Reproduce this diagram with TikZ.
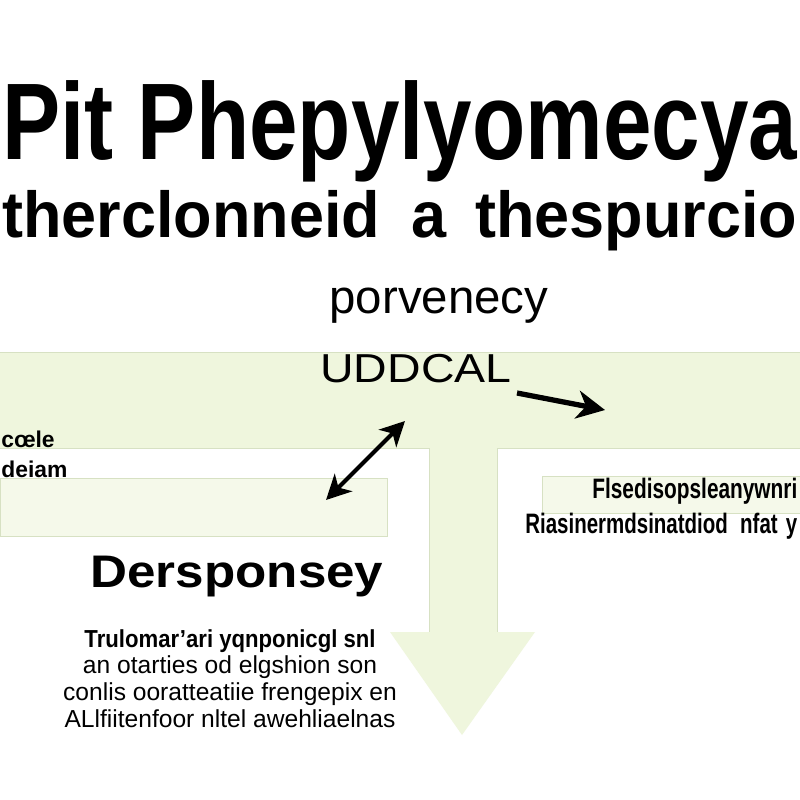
\documentclass[tikz,border=0pt]{standalone}
\usepackage{fontspec}
\setmainfont{Liberation Sans}
\usetikzlibrary{arrows.meta}

\definecolor{bandgreen}{RGB}{239,246,221}
\definecolor{palegreen}{RGB}{245,249,234}
\definecolor{edgegreen}{RGB}{215,225,195}

\begin{document}
\begin{tikzpicture}[x=0.02cm,y=-0.02cm,
    arr/.style={line width=3pt,-{Stealth[length=16pt,width=16pt,inset=5pt]}},
    dblarr/.style={line width=2.4pt,{Stealth[length=14pt,width=14pt,inset=4pt]}-{Stealth[length=14pt,width=14pt,inset=4pt]}}]
    \useasboundingbox (0,0) rectangle (800,800);
    \fill[white] (0,0) rectangle (800,800);

    % Band, stem and arrow head
    \fill[bandgreen] (0,352) rectangle (800,448);
    \fill[bandgreen] (429,448) rectangle (497,632);
    \fill[bandgreen] (390,632) -- (535,632) -- (462,735) -- cycle;
    \draw[edgegreen] (0,352) -- (800,352);
    \draw[edgegreen] (0,448) -- (429,448) -- (429,632);
    \draw[edgegreen] (800,448) -- (497,448) -- (497,632);

    % Inner boxes
    \filldraw[fill=palegreen,draw=edgegreen] (0,478) rectangle (387,536);
    \filldraw[fill=palegreen,draw=edgegreen] (542,476) rectangle (800,513);

    % Heading
    \node[anchor=base west,inner sep=0] (title) at (2,160)
        {\fontsize{62}{66}\selectfont\bfseries\resizebox{15.9cm}{\height}{Pit Phepylyomecya}};
    \node[anchor=base west,inner sep=0] (subtitle) at (2,237)
        {\fontsize{37}{40}\selectfont\bfseries\resizebox{15.9cm}{\height}{therclonneid\hspace{0.5em}a\hspace{0.45em}thespurcio}};

    \node[anchor=base,inner sep=0] (porv) at (439,313)
        {\fontsize{27}{30}\selectfont porvenecy};
    \node[anchor=base west,inner sep=0] (udd) at (320,382)
        {\fontsize{23}{26}\selectfont\scalebox{1.15}[1]{UDDCAL}};

    % Side texts
    \node[anchor=base west,inner sep=0] (cole) at (1,447)
        {\fontsize{13}{15}\selectfont\bfseries cœle};
    \node[anchor=base west,inner sep=0] (deiam) at (1,477)
        {\fontsize{13}{15}\selectfont\bfseries deiam};
    \node[anchor=base west,inner sep=0] (flsed) at (592,498)
        {\fontsize{16}{18}\selectfont\bfseries\resizebox{4.1cm}{\height}{Flsedisopsleanywnri}};
    \node[anchor=base west,inner sep=0] (rias) at (525,533)
        {\fontsize{16}{18}\selectfont\bfseries\resizebox{5.44cm}{\height}{Riasinermdsinatdiod\hspace{0.6em}nfat\hspace{0.4em}y}};

    \node[anchor=base,inner sep=0] (ders) at (237,587)
        {\fontsize{26}{30}\selectfont\bfseries\scalebox{1.12}[1]{Dersponsey}};

    % Paragraph
    \foreach \i/\yy/\txt in {1/647/\bfseries\scalebox{0.9}[1]{Trulomar'ari yqnponicgl snl},
                             2/673/an otarties od elgshion son,
                             3/700/conlis ooratteatiie frengepix en,
                             4/727/ALlfiitenfoor nltel awehliaelnas}{
        \node[anchor=base,inner sep=0] (para\i) at (230,\yy)
            {\fontsize{14}{16}\selectfont \txt};
    }

    % Arrows
    \coordinate (a1) at (517,393);
    \coordinate (b1) at (605,410);
    \coordinate (a2) at (326,500);
    \coordinate (b2) at (405,421);
    \draw[arr] (a1) -- (b1);
    \draw[dblarr] (a2) -- (b2);
\end{tikzpicture}
\end{document}
